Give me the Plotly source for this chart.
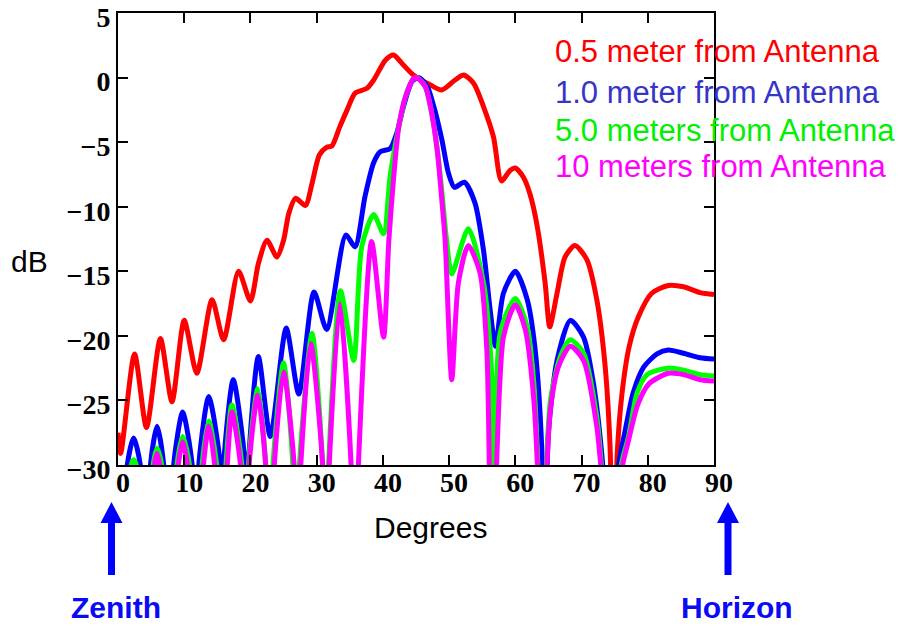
import plotly.graph_objects as go

# ---- data: antenna pattern (dB) versus angle from zenith (degrees) ----
# values below the -30 dB floor stand for the deep nulls that run off the chart
red_deg = [0, 0.4, 2.5, 4.3, 6.4, 8.15, 10.0, 11.9, 14.2, 15.95, 18.2, 20.0, 21.2, 22.5, 24.0,
           25.0, 25.8, 26.8, 28.3, 29.3, 30.4, 31.5, 32.3, 33.5, 34.6, 35.8, 37.6, 38.6, 40.4,
           41.6, 43.1, 44.6, 47.2, 48.9, 50.9, 52.2, 53.7, 55.2, 56.7, 57.9, 59.2, 60.0, 61.2,
           62.2, 63.3, 64.5, 65.2, 66.3, 67.5, 69.0, 70.8, 72.3, 73.5, 74.3, 74.8, 75.4, 76.1,
           77.2, 78.6, 80.6, 83.1, 85.4, 87.9, 90]
red_db = [-27.5, -29.1, -21.4, -27.1, -20.2, -25.1, -18.8, -22.9, -17.2, -20.3, -15.0, -17.3, -14.4,
          -12.6, -13.9, -12.6, -10.5, -9.35, -9.9, -8.2, -6.0, -5.4, -5.3, -3.8, -2.5, -1.2, -0.83,
          -0.2, 1.36, 1.75, 0.97, 0.2, -0.58, -0.96, -0.19, 0.2, -0.44, -2.26, -4.6, -8.0, -7.2,
          -7.0, -7.7, -9.0, -11.5, -15.9, -19.3, -16.7, -13.9, -13.0, -14.1, -17.2, -22.0, -28.5,
          -40, -29.0, -24.5, -20.8, -18.5, -16.7, -16.1, -16.2, -16.65, -16.8]

blue_deg = [0.3, 1.4, 2.36, 3.37, 4.1, 4.9, 5.9, 6.9, 7.65, 8.4, 9.76, 11.2, 11.7, 12.2, 13.7, 15.45,
            15.7, 15.95, 17.4, 19.2, 19.45, 19.7, 21.2, 23.0, 25.4, 27.3, 29.6, 31.5, 34.4, 35.8,
            37.3, 38.6, 39.6, 41.1, 42.1, 43.1, 44.4, 45.4, 46.7, 47.7, 48.9, 49.9, 50.8, 52.3,
            53.9, 55.2, 56.2, 57.0, 58.2, 60.0, 61.8, 63.0, 64.0, 64.4, 65.0, 66.3, 68.3, 70.3,
            71.8, 73.1, 74.5, 75.6, 76.6, 77.8, 79.4, 81.4, 83.1, 85.4, 87.9, 90]
blue_db = [-40, -30, -27.9, -30, -40, -30, -27.0, -30, -40, -30, -25.9, -30, -40, -30, -24.7, -30,
           -40, -30, -23.4, -30, -40, -30, -21.6, -27.8, -19.4, -24.5, -16.6, -19.5, -12.2, -13.1,
           -9.2, -6.6, -5.74, -5.5, -4.3, -2.26, -0.3, 0.0, -0.7, -2.26, -4.8, -7.4, -8.5, -8.1,
           -9.7, -13.4, -18.0, -20.8, -16.7, -15.0, -17.2, -21.1, -28.8, -40, -27.5, -21.9, -18.8,
           -20.1, -23.7, -29.4, -40, -30, -27.3, -24.4, -22.4, -21.4, -21.1, -21.35, -21.7, -21.8]

green_deg = [0.8, 2.0, 2.36, 2.75, 4.2, 5.3, 5.9, 6.6, 7.8, 8.9, 9.76, 10.8, 11.8, 12.7, 13.7, 14.9,
             15.6, 16.3, 17.2, 18.7, 19.2, 19.7, 21.1, 22.3, 22.8, 23.4, 25.0, 26.4, 26.8, 27.4,
             29.3, 30.9, 31.3, 31.8, 33.6, 35.6, 36.8, 38.6, 40.1, 41.1, 42.4, 43.4, 44.6, 45.2,
             46.4, 47.2, 48.2, 48.9, 49.6, 50.4, 52.9, 55.2, 56.5, 56.9, 57.7, 60.0, 61.8, 62.8,
             63.4, 64.0, 64.7, 65.3, 66.8, 68.3, 70.3, 72.3, 73.0, 74.6, 76.0, 77.1, 78.4, 79.9,
             83.0, 85.4, 87.9, 90]
green_db = [-40, -30, -29.6, -30, -40, -30, -28.7, -30, -40, -30, -27.8, -30, -40, -30, -26.6, -30,
            -40, -30, -25.35, -30, -40, -30, -24.1, -30, -40, -30, -22.1, -30, -40, -30,
            -19.8, -30, -40, -30, -16.5, -21.9, -13.1, -10.6, -12.1, -7.6, -3.8, -1.5, -0.1, 0.0,
            -0.7, -2.3, -5.5, -8.8, -12.5, -15.2, -11.7, -15.9, -23.7, -40, -19.8, -17.1, -19.3,
            -23.7, -30, -40, -30, -25.0, -21.6, -20.3, -21.35, -26.3, -30, -40, -30, -27.8, -24.4,
            -23.0, -22.5, -22.65, -23.0, -23.1]

magenta_deg = [0, 2.4, 4.4, 5.5, 5.9, 6.3, 7.8, 9.1, 9.76, 10.5, 11.8, 12.9, 13.7, 14.6, 15.6, 16.5,
               17.2, 18.5, 19.2, 19.8, 21.1, 22.3, 22.9, 23.6, 25.0, 26.6, 27.0, 27.6, 29.1, 30.9,
               31.3, 31.9, 33.5, 35.2, 35.7, 36.3, 38.3, 40.1, 40.9, 41.6, 42.4, 43.4, 44.6, 45.1,
               46.4, 47.2, 48.2, 48.9, 49.4, 50.4, 51.4, 52.9, 54.7, 55.7, 56.5, 58.2, 60.0, 61.5,
               62.8, 63.5, 64.0, 64.6, 65.3, 66.5, 68.3, 70.3, 72.3, 72.9, 74.8, 76.2, 76.9, 78.5,
               80.2, 83.1, 85.4, 87.9, 90]
magenta_db = [-40, -30.6, -40, -30, -29.1, -30, -40, -30, -28.2, -30, -40, -30, -27.0, -30, -40, -30,
              -25.9, -30, -40, -30, -24.6, -30, -40, -30, -22.8, -30, -40, -30, -20.6, -30,
              -40, -30, -17.5, -30, -40, -30, -12.7, -20.1, -12.6, -7.9, -3.8, -1.5, -0.1, 0.0,
              -0.7, -2.3, -5.6, -9.5, -12.6, -23.4, -15.9, -13.0, -15.2, -21.1, -40, -20.1, -17.6,
              -19.5, -25.0, -32, -40, -32, -25.7, -22.4, -20.8, -21.9, -27.0, -30, -40, -30, -28.5,
              -25.3, -23.7, -22.9, -23.0, -23.4, -23.5]

series_names = ["0.5 meter from Antenna", "1.0 meter from Antenna",
                "5.0 meters from Antenna", "10 meters from Antenna"]
line_colors = ["#FF0000", "#0000FF", "#00FF00", "#FF00FF"]
label_colors = ["#FF0000", "#3535C8", "#00F000", "#FF00FF"]

x_ticks = [0, 10, 20, 30, 40, 50, 60, 70, 80, 90]
y_ticks = [5, 0, -5, -10, -15, -20, -25, -30]
y_ticktext = [str(v).replace("-", "\u2212") for v in y_ticks]

# ---- geometry helpers (pixel -> paper) ----
W, H = 899, 628
L, R, T, B = 118, 714, 13, 465


def pxx(px):
    return (px - L) / (R - L)


def pxy(py):
    return (B - py) / (B - T)


fig = go.Figure()
all_x = [red_deg, blue_deg, green_deg, magenta_deg]
all_y = [red_db, blue_db, green_db, magenta_db]
for xs, ys, name, col in zip(all_x, all_y, series_names, line_colors):
    fig.add_trace(go.Scatter(x=xs, y=ys, mode="lines", name=name,
                             line=dict(color=col, width=5, shape="spline", smoothing=0.7)))

tick_font = dict(family="Liberation Serif", size=28, color="black", weight="bold")
axis_common = dict(showline=True, linewidth=2, linecolor="black", mirror="ticks",
                   ticks="inside", ticklen=10, tickwidth=1.5, tickcolor="black",
                   showgrid=False, zeroline=False, tickfont=tick_font,
                   ticklabeloverflow="allow", automargin=False)

fig.update_xaxes(range=[0, 90], tickvals=x_ticks, ticklabelshift=5,
                 ticklabelstandoff=-9, **axis_common)
fig.update_yaxes(range=[-30, 5], tickvals=y_ticks, ticktext=y_ticktext,
                 ticklabelshift=4, **axis_common)

sans = "Liberation Sans, Arial, sans-serif"
ann = []
# series labels
for i, (name, col) in enumerate(zip(series_names, label_colors)):
    ann.append(dict(text=name, x=pxx(553), y=pxy([52, 92, 130, 166][i]), xref="paper", yref="paper",
                    xanchor="left", yanchor="middle", showarrow=False,
                    font=dict(family=sans, size=31, color=col)))
# axis titles
ann.append(dict(text="Degrees", x=pxx(430), y=pxy(527), xref="paper", yref="paper",
                xanchor="center", yanchor="middle", showarrow=False,
                font=dict(family=sans, size=30, color="black")))
ann.append(dict(text="dB", x=pxx(29), y=pxy(261), xref="paper", yref="paper",
                xanchor="center", yanchor="middle", showarrow=False,
                font=dict(family=sans, size=30, color="black")))
# zenith / horizon markers
for label, cx in [("Zenith", 116), ("Horizon", 736.5)]:
    ann.append(dict(text=label, x=pxx(cx), y=pxy(607), xref="paper", yref="paper",
                    xanchor="center", yanchor="middle", showarrow=False,
                    font=dict(family=sans, size=30, color="#0A0AF5", weight="bold")))

shapes = []
for cx in [111.5, 728]:
    # shaft
    shapes.append(dict(type="rect", xref="paper", yref="paper",
                       x0=pxx(cx - 3.5), x1=pxx(cx + 3.5), y0=pxy(575), y1=pxy(520),
                       fillcolor="#0000FF", line=dict(width=0)))
    # head
    path = "M {a},{b} L {c},{b} L {d},{e} Z".format(
        a=pxx(cx - 11), c=pxx(cx + 11), b=pxy(523), d=pxx(cx), e=pxy(502))
    shapes.append(dict(type="path", xref="paper", yref="paper", path=path,
                       fillcolor="#0000FF", line=dict(width=0)))

fig.update_layout(width=W, height=H, margin=dict(l=L, r=W - R, t=T, b=H - B, autoexpand=False),
                  paper_bgcolor="white", plot_bgcolor="white", showlegend=False,
                  annotations=ann, shapes=shapes)

fig.write_html("out.html")
